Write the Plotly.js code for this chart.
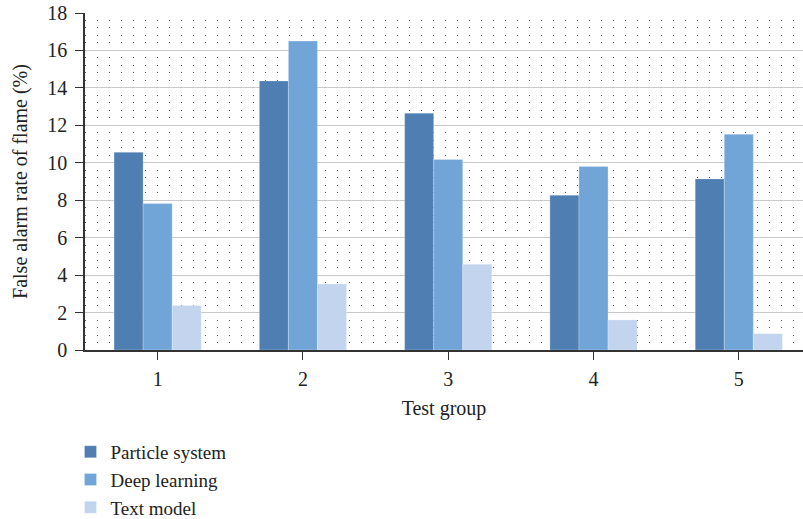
<!DOCTYPE html>
<html>
<head>
<meta charset="utf-8">
<script src="https://cdn.plot.ly/plotly-3.0.1.min.js"></script>
<style>
  html, body { margin: 0; padding: 0; background: #fff; }
  #chart { width: 803px; height: 519px; }
</style>
</head>
<body>
<div id="chart"></div>
<script>
// Test groups and false alarm rates (%) per method
const groups = [1, 2, 3, 4, 5];
const particleSystem = [10.56, 14.37, 12.65, 8.27, 9.14];
const deepLearning = [7.82, 16.5, 10.18, 9.8, 11.52];
const textModel = [2.38, 3.52, 4.58, 1.61, 0.87];
const yTicks = [0, 2, 4, 6, 8, 10, 12, 14, 16, 18];

const serif = '"Liberation Serif", "DejaVu Serif", serif';
const edge = { color: 'rgba(255,255,255,0.3)', width: 0.8 };

const traces = [
  { name: 'Particle system', values: particleSystem, color: '#4f7fb2' },
  { name: 'Deep learning', values: deepLearning, color: '#72a5d7' },
  { name: 'Text model', values: textModel, color: '#c2d4ee' }
].map(s => ({
  type: 'bar',
  name: s.name,
  x: groups,
  y: s.values,
  marker: { color: s.color, line: edge },
  hoverinfo: 'x+y+name'
}));

const txt = { family: serif, size: 20, color: '#222' };
const legendTxt = { family: serif, size: 19, color: '#222' };

const layout = {
  width: 803,
  height: 519,
  margin: { l: 85, r: 0, t: 13, b: 169, autoexpand: false },
  paper_bgcolor: '#ffffff',
  plot_bgcolor: '#ffffff',
  barmode: 'group',
  bargap: 0.4,
  bargroupgap: 0,
  font: txt,
  xaxis: {
    range: [0.5, 5.442],
    tickmode: 'array',
    tickvals: groups,
    ticktext: groups.map(String),
    ticks: 'outside',
    ticklen: 8,
    tickwidth: 1.3,
    tickcolor: '#333',
    ticklabelstandoff: 2,
    showline: true,
    linecolor: '#333',
    linewidth: 1.5,
    showgrid: false,
    zeroline: false,
    automargin: false,
    tickfont: txt,
    title: { text: 'Test group', font: txt, standoff: 12 }
  },
  yaxis: {
    range: [0, 18],
    tickmode: 'array',
    tickvals: yTicks,
    ticktext: yTicks.map(String),
    ticks: 'outside',
    ticklen: 8,
    tickwidth: 1.3,
    tickcolor: '#333',
    ticklabelstandoff: 4,
    showline: true,
    linecolor: '#333',
    linewidth: 1.5,
    showgrid: true,
    gridcolor: '#c9c9c9',
    gridwidth: 1.3,
    zeroline: false,
    automargin: false,
    minor: {
      dtick: 0.4,
      showgrid: true,
      gridcolor: '#5a5a5a',
      gridwidth: 1.2,
      griddash: '1.2px,10.8px'
    },
    tickfont: txt,
    title: { text: 'False alarm rate of flame (%)', font: txt, standoff: 14 }
  },
  legend: {
    orientation: 'v',
    x: -0.0202,
    xanchor: 'left',
    y: -0.246,
    yanchor: 'top',
    bgcolor: 'rgba(0,0,0,0)',
    font: legendTxt,
    tracegroupgap: 0
  },
  showlegend: true
};

Plotly.newPlot('chart', traces, layout, { displayModeBar: false, responsive: false });
</script>
</body>
</html>
